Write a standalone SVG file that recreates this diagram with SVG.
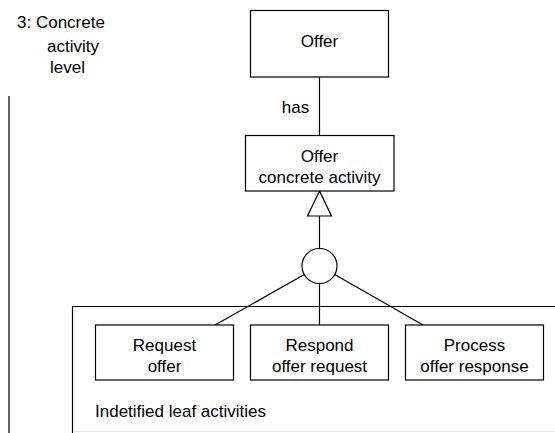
<svg xmlns="http://www.w3.org/2000/svg" width="555" height="433" viewBox="0 0 555 433">
  <style>
    text { font-family: "Liberation Sans", Arial, sans-serif; font-size: 17px; fill: #000; }
    .c { text-anchor: middle; }
    .box { fill: #fff; stroke: #000; stroke-width: 1.2; }
    .ln { fill: none; stroke: #000; stroke-width: 1.2; }
  </style>

  <!-- level label and left rule -->
  <g id="level-label">
    <text x="17" y="28">3: Concrete</text>
    <text x="47" y="52">activity</text>
    <text x="50" y="73">level</text>
    <line class="ln" x1="9" y1="96" x2="9" y2="433" stroke-width="1.5"/>
  </g>

  <!-- frame around the leaf activities -->
  <g id="leaf-frame">
    <path class="ln" d="M72.5,433 V306.5 H555"/>
    <line x1="73" y1="431.5" x2="555" y2="431.5" stroke="#e4e4e4" stroke-width="1"/>
    <text x="95" y="417">Indetified leaf activities</text>
  </g>

  <!-- connectors -->
  <g id="connectors">
    <line class="ln" x1="319.5" y1="77" x2="319.5" y2="135"/>
    <text class="c" x="295.5" y="113">has</text>
    <polygon class="box" points="319.5,191 307.5,216 331.5,216"/>
    <line class="ln" x1="319.5" y1="216" x2="319.5" y2="248.5"/>
    <circle class="box" cx="319.5" cy="266" r="17.5"/>
    <line class="ln" x1="304.3" y1="274.6" x2="215" y2="325"/>
    <line class="ln" x1="319.5" y1="283.5" x2="319.5" y2="325"/>
    <line class="ln" x1="334.7" y1="274.6" x2="423" y2="325"/>
  </g>

  <g id="offer">
    <rect class="box" x="250.5" y="10.5" width="138" height="66.5"/>
    <text class="c" x="319.5" y="47">Offer</text>
  </g>

  <g id="offer-concrete-activity">
    <rect class="box" x="245.5" y="135.5" width="148.5" height="55.5"/>
    <text class="c" x="319.5" y="161.5">Offer</text>
    <text class="c" x="319.5" y="183">concrete activity</text>
  </g>

  <g id="request-offer">
    <rect class="box" x="95.5" y="325" width="138" height="55"/>
    <text class="c" x="164.5" y="351">Request</text>
    <text class="c" x="164.5" y="372">offer</text>
  </g>

  <g id="respond-offer-request">
    <rect class="box" x="250.5" y="325" width="138" height="55"/>
    <text class="c" x="319.5" y="351">Respond</text>
    <text class="c" x="319.5" y="372">offer request</text>
  </g>

  <g id="process-offer-response">
    <rect class="box" x="405.5" y="325" width="138" height="55"/>
    <text class="c" x="474.5" y="351">Process</text>
    <text class="c" x="474.5" y="372">offer response</text>
  </g>
</svg>
